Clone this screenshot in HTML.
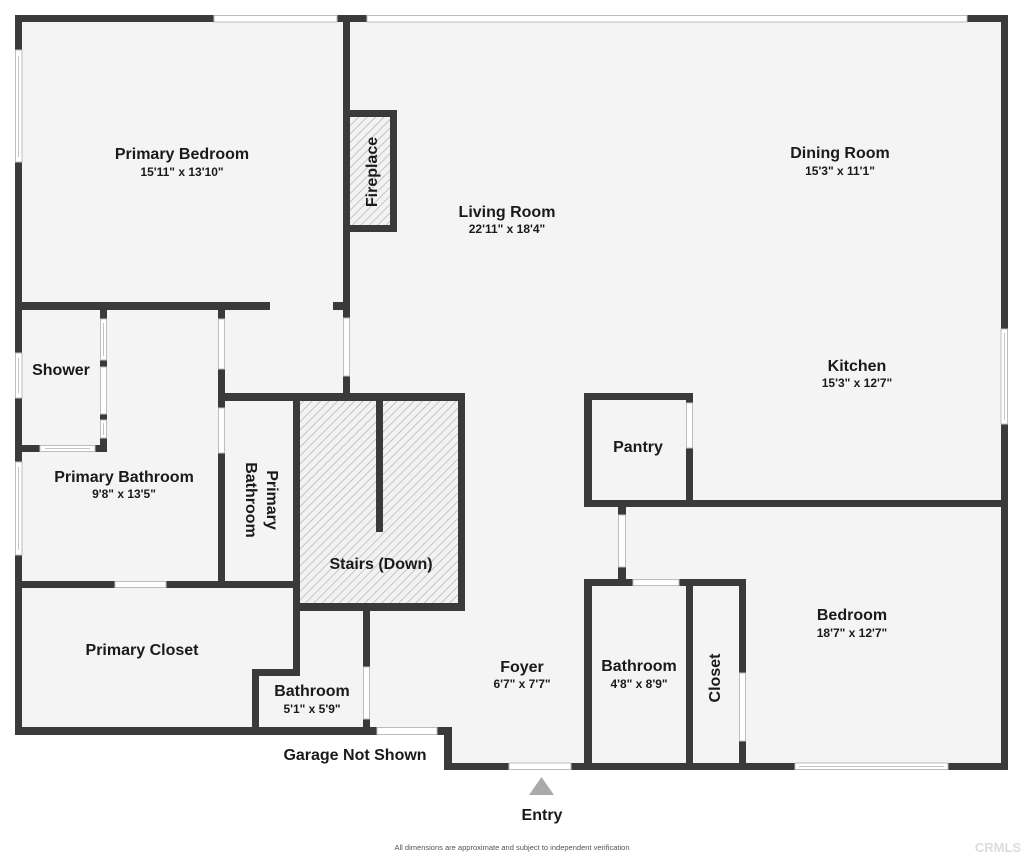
<!DOCTYPE html>
<html>
<head>
<meta charset="utf-8">
<style>
  html,body{margin:0;padding:0;background:#fff;}
  svg{display:block;}
  text{font-family:"Liberation Sans",sans-serif;fill:#1a1a1a;}
  .n{font-size:16px;font-weight:bold;text-anchor:middle;}
  .d{font-size:12px;font-weight:bold;text-anchor:middle;}
</style>
</head>
<body>
<svg width="1024" height="855" viewBox="0 0 1024 855" xmlns="http://www.w3.org/2000/svg">
  <defs>
    <pattern id="h" patternUnits="userSpaceOnUse" width="6" height="6" patternTransform="rotate(45)">
      <rect width="6" height="6" fill="#f2f2f2"/>
      <line x1="0" y1="0" x2="0" y2="6" stroke="#a8a8a8" stroke-width="1.2"/>
    </pattern>
  </defs>
  <rect x="0" y="0" width="1024" height="855" fill="#fff"/>
  <!-- floor -->
  <polygon points="15,15 1008,15 1008,770 444,770 444,735 15,735" fill="#f4f4f4"/>

  <!-- hatched areas -->
  <rect x="350" y="117" width="40" height="108" fill="url(#h)"/>
  <rect x="300" y="401" width="158" height="202" fill="url(#h)"/>

  <g fill="#3a3a3a">
    <!-- outer top -->
    <rect x="15" y="15" width="199" height="7"/>
    <rect x="337" y="15" width="30" height="7"/>
    <rect x="967" y="15" width="41" height="7"/>
    <!-- right -->
    <rect x="1001" y="15" width="7" height="314"/>
    <rect x="1001" y="424" width="7" height="346"/>
    <!-- bottom right -->
    <rect x="444" y="763" width="65" height="7"/>
    <rect x="571" y="763" width="224" height="7"/>
    <rect x="948" y="763" width="60" height="7"/>
    <!-- step -->
    <rect x="444" y="727" width="8" height="43"/>
    <!-- bottom left -->
    <rect x="15" y="727" width="362" height="8"/>
    <rect x="437" y="727" width="15" height="8"/>
    <!-- left -->
    <rect x="15" y="15" width="7" height="35"/>
    <rect x="15" y="162" width="7" height="191"/>
    <rect x="15" y="398" width="7" height="64"/>
    <rect x="15" y="555" width="7" height="180"/>

    <!-- interior vertical near fireplace -->
    <rect x="343" y="15" width="7" height="303"/>
    <rect x="343" y="376" width="7" height="25"/>
    <!-- fireplace frame -->
    <path d="M343,110 H397 V232 H343 Z M350,117 V225 H390 V117 Z" fill-rule="evenodd"/>
    <!-- bedroom bottom -->
    <rect x="15" y="302" width="255" height="8"/>
    <rect x="333" y="302" width="17" height="8"/>
    <!-- shower right -->
    <rect x="100" y="310" width="7" height="9"/>
    <rect x="100" y="360" width="7" height="7"/>
    <rect x="100" y="414" width="7" height="6"/>
    <rect x="100" y="438" width="7" height="14"/>
    <!-- shower bottom -->
    <rect x="15" y="445" width="25" height="7"/>
    <rect x="95" y="445" width="12" height="7"/>
    <!-- x 218 wall -->
    <rect x="218" y="302" width="7" height="17"/>
    <rect x="218" y="369" width="7" height="39"/>
    <rect x="218" y="453" width="7" height="135"/>
    <!-- horizontal above stairs -->
    <rect x="218" y="393" width="247" height="8"/>
    <!-- stairs -->
    <rect x="293" y="393" width="7" height="283"/>
    <rect x="458" y="393" width="7" height="218"/>
    <rect x="293" y="603" width="172" height="8"/>
    <rect x="376" y="393" width="7" height="139"/>
    <!-- primary bath bottom -->
    <rect x="15" y="581" width="100" height="7"/>
    <rect x="166" y="581" width="134" height="7"/>
    <!-- step near small bath -->
    <rect x="252" y="669" width="48" height="7"/>
    <rect x="252" y="669" width="7" height="66"/>
    <!-- small bath right -->
    <rect x="363" y="603" width="7" height="64"/>
    <rect x="363" y="719" width="7" height="16"/>
    <!-- pantry -->
    <rect x="584" y="393" width="109" height="7"/>
    <rect x="584" y="393" width="8" height="114"/>
    <rect x="686" y="393" width="7" height="10"/>
    <rect x="686" y="448" width="7" height="59"/>
    <rect x="584" y="500" width="424" height="7"/>
    <!-- wall between pantry and bath -->
    <rect x="618" y="507" width="8" height="8"/>
    <rect x="618" y="567" width="8" height="12"/>
    <!-- bathroom/closet -->
    <rect x="584" y="579" width="49" height="7"/>
    <rect x="679" y="579" width="67" height="7"/>
    <rect x="584" y="579" width="8" height="191"/>
    <rect x="686" y="579" width="7" height="191"/>
    <rect x="739" y="579" width="7" height="94"/>
    <rect x="739" y="741" width="7" height="29"/>
  </g>

  <!-- openings / windows -->
  <g fill="#ffffff" stroke="#bdbdbd" stroke-width="1">
    <rect x="214" y="15.5" width="123" height="6.5"/>
    <rect x="367" y="15.5" width="600" height="6.5"/>
    <rect x="1001" y="329" width="6.5" height="95"/>
    <rect x="509" y="763" width="62" height="6.5"/>
    <rect x="795" y="763" width="153" height="6.5"/>
    <rect x="377" y="727.5" width="60" height="7"/>
    <rect x="15.5" y="50" width="6.5" height="112"/>
    <rect x="15.5" y="353" width="6.5" height="45"/>
    <rect x="15.5" y="462" width="6.5" height="93"/>
    <rect x="343.5" y="318" width="6" height="58"/>
    <rect x="100.5" y="319" width="6" height="41"/>
    <rect x="100.5" y="367" width="6" height="47"/>
    <rect x="100.5" y="420" width="6" height="18"/>
    <rect x="40" y="445.5" width="55" height="6"/>
    <rect x="218.5" y="319" width="6" height="50"/>
    <rect x="218.5" y="408" width="6" height="45"/>
    <rect x="115" y="581.5" width="51" height="6"/>
    <rect x="363.5" y="667" width="6" height="52"/>
    <rect x="686.5" y="403" width="6" height="45"/>
    <rect x="618.5" y="515" width="7" height="52"/>
    <rect x="633" y="579.5" width="46" height="6"/>
    <rect x="739.5" y="673" width="6" height="68"/>
  </g>
  <!-- window inner lines -->
  <g stroke="#c4c4c4" stroke-width="1" fill="none">
    <line x1="1004.5" y1="333" x2="1004.5" y2="420"/>
    <line x1="799" y1="766.5" x2="944" y2="766.5"/>
    <line x1="18.5" y1="56" x2="18.5" y2="157"/>
    <line x1="18.5" y1="358" x2="18.5" y2="393"/>
    <line x1="18.5" y1="467" x2="18.5" y2="550"/>
    <line x1="103.5" y1="323" x2="103.5" y2="356"/>
    <line x1="103.5" y1="423" x2="103.5" y2="435"/>
    <line x1="45" y1="448.5" x2="90" y2="448.5"/>
  </g>

  <!-- entry triangle -->
  <polygon points="529,795 554,795 541.5,777" fill="#aaaaaa"/>

  <!-- labels -->
  <text class="n" x="182" y="159">Primary Bedroom</text>
  <text class="d" x="182" y="176">15'11" x 13'10"</text>

  <text class="n" x="507" y="217">Living Room</text>
  <text class="d" x="507" y="233">22'11" x 18'4"</text>

  <text class="n" x="840" y="158">Dining Room</text>
  <text class="d" x="840" y="175">15'3" x 11'1"</text>

  <text class="n" x="857" y="371">Kitchen</text>
  <text class="d" x="857" y="387">15'3" x 12'7"</text>

  <text class="n" x="852" y="620">Bedroom</text>
  <text class="d" x="852" y="637">18'7" x 12'7"</text>

  <text class="n" x="61" y="375">Shower</text>

  <text class="n" x="124" y="482">Primary Bathroom</text>
  <text class="d" x="124" y="498">9'8" x 13'5"</text>

  <text class="n" x="381" y="569">Stairs (Down)</text>

  <text class="n" x="142" y="655">Primary Closet</text>

  <text class="n" x="312" y="696">Bathroom</text>
  <text class="d" x="312" y="713">5'1" x 5'9"</text>

  <text class="n" x="355" y="760">Garage Not Shown</text>

  <text class="n" x="638" y="452">Pantry</text>

  <text class="n" x="522" y="672">Foyer</text>
  <text class="d" x="522" y="688">6'7" x 7'7"</text>

  <text class="n" x="639" y="671">Bathroom</text>
  <text class="d" x="639" y="688">4'8" x 8'9"</text>

  <text class="n" transform="translate(720,678) rotate(-90)" x="0" y="0">Closet</text>
  <text class="n" transform="translate(377,172) rotate(-90)" x="0" y="0">Fireplace</text>

  <text class="n" transform="translate(267,500) rotate(90)" x="0" y="0">Primary</text>
  <text class="n" transform="translate(246,500) rotate(90)" x="0" y="0">Bathroom</text>

  <text class="n" x="542" y="820">Entry</text>

  <text x="512" y="850" style="font-size:7px;fill:#555;text-anchor:middle;" textLength="235" lengthAdjust="spacingAndGlyphs">All dimensions are approximate and subject to independent verification</text>
  <text x="998" y="852" style="font-size:13px;font-weight:bold;fill:#dcdcdc;text-anchor:middle;">CRMLS</text>
</svg>
</body>
</html>
